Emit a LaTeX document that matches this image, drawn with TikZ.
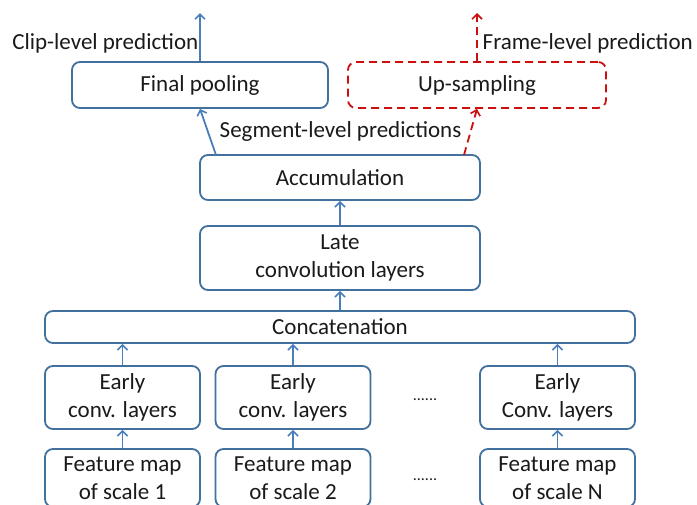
\documentclass[tikz,border=0pt]{standalone}
\usepackage{fontspec}
\setmainfont{Carlito}
\usetikzlibrary{arrows.meta}
\definecolor{boxblue}{RGB}{65,113,156}
\definecolor{arrblue}{RGB}{74,126,187}
\definecolor{dashred}{RGB}{204,16,16}
\definecolor{txt}{RGB}{26,26,26}
\tikzset{
  blk/.style={draw=boxblue, line width=1.8pt, rounded corners=8pt, fill=white,
    align=center, inner sep=0pt, text=txt,
    font=\fontsize{23}{28}\selectfont},
  optblk/.style={blk, draw=dashred, dash pattern=on 8pt off 5pt},
  inblk/.style={blk, text depth=0pt, minimum width=155pt, minimum height=58pt},
  arr/.style={draw=arrblue, line width=1.8pt,
    -{Straight Barb[length=5pt,width=10pt,line width=1.6pt]}},
  optarr/.style={arr, draw=dashred, dash pattern=on 8pt off 5pt},
  lbl/.style={text=txt, inner sep=0pt, font=\fontsize{23}{28}\selectfont},
  dots/.style={text=txt, inner sep=0pt, font=\fontsize{16}{18}\selectfont}
}
\begin{document}
\begin{tikzpicture}[x=1pt,y=-1pt]
\clip (0,0) rectangle (697,504);
\useasboundingbox (0,0) rectangle (697,504);

% output stage
\node[blk, minimum width=256pt, minimum height=46pt] (fp) at (200,85) {Final pooling};
\node[optblk, minimum width=258pt, minimum height=46pt] (up) at (477,85) {Up-sampling};

% shared trunk
\node[blk, minimum width=280pt, minimum height=45pt] (acc) at (340,177.5) {Accumulation};
\node[blk, minimum width=280pt, minimum height=64pt] (late) at (340,258) {Late\\convolution layers};
\node[blk, minimum width=590pt, minimum height=32pt] (cat) at (340,327) {Concatenation};

% per-scale branches
\node[blk, minimum width=155pt, minimum height=63pt] (e1) at (122.5,397.5) {Early\\conv. layers};
\node[blk, minimum width=155pt, minimum height=63pt] (e2) at (293,397.5) {Early\\conv. layers};
\node[blk, minimum width=155pt, minimum height=63pt] (eN) at (557.5,397.5) {Early\\Conv. layers};
\node[inblk] (f1) at (122.5,478) {Feature map\\of scale 1};
\node[inblk] (f2) at (293,478) {Feature map\\of scale 2};
\node[inblk] (fN) at (557.5,478) {Feature map\\of scale N};

\node[dots] (d1) at (425,400) {......};
\node[dots] (d2) at (425,480) {......};

% connectors
\coordinate (cliptop) at (200,13);
\coordinate (frametop) at (477,13);
\coordinate (accL) at (216,155);
\coordinate (accR) at (464,155);

\draw[arr] (fp.north) -- (cliptop);
\draw[arr] (accL) -- (fp.south);
\draw[optarr] (accR) -- (up.south);
\draw[optarr] (up.north) -- (frametop);
\draw[arr] (late.north) -- (acc.south);
\draw[arr] (cat.north) -- (late.south);
\draw[arr] (e1.north) -- (e1.north |- cat.south);
\draw[arr] (e2.north) -- (e2.north |- cat.south);
\draw[arr] (eN.north) -- (eN.north |- cat.south);
\draw[arr] (f1.north) -- (e1.south);
\draw[arr] (f2.north) -- (e2.south);
\draw[arr] (fN.north) -- (eN.south);

% labels
\node[lbl, anchor=east] (cliplbl) at (198.5,43) {Clip-level prediction};
\node[lbl, anchor=west] (framelbl) at (482.5,43) {Frame-level prediction};
\node[lbl] (seglbl) at (340.5,131) {Segment-level predictions};
\end{tikzpicture}
\end{document}
